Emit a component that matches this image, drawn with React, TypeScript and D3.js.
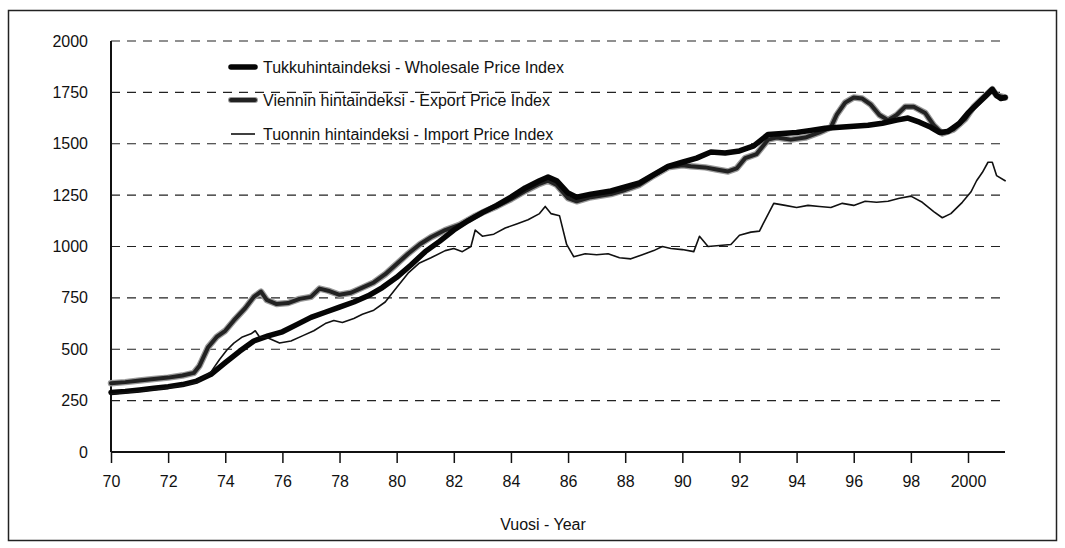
import React, { useRef, useEffect } from 'react';
import * as d3 from 'd3';

// [year, index] pairs, 1970 .. 2001
const wholesale: [number, number][] = [
  [1970.0, 290], [1970.5, 295], [1971.0, 302], [1971.5, 310], [1972.0, 318], [1972.5, 328],
  [1973.0, 345], [1973.5, 378], [1974.0, 435], [1974.5, 490], [1975.0, 540], [1975.5, 565],
  [1976.0, 585], [1976.5, 620], [1977.0, 655], [1977.5, 680], [1978.0, 705], [1978.5, 730],
  [1979.0, 760], [1979.5, 800], [1980.0, 850], [1980.5, 910], [1981.0, 975], [1981.5, 1025],
  [1982.0, 1080], [1982.5, 1125], [1983.0, 1165], [1983.5, 1200], [1984.0, 1240], [1984.5, 1285],
  [1985.0, 1320], [1985.3, 1338], [1985.6, 1320], [1986.0, 1260], [1986.3, 1240], [1986.8, 1255],
  [1987.5, 1270], [1988.0, 1290], [1988.5, 1310], [1989.0, 1350], [1989.5, 1390], [1990.0, 1410],
  [1990.5, 1430], [1991.0, 1460], [1991.5, 1455], [1992.0, 1465], [1992.5, 1490], [1993.0, 1545],
  [1993.5, 1550], [1994.0, 1555], [1994.5, 1565], [1995.0, 1575], [1995.5, 1580], [1996.0, 1585],
  [1996.5, 1590], [1997.0, 1600], [1997.5, 1615], [1997.9, 1625], [1998.3, 1605], [1998.7, 1580],
  [1999.0, 1555], [1999.3, 1560], [1999.7, 1600], [2000.0, 1650], [2000.3, 1690], [2000.6, 1730],
  [2000.85, 1765], [2001.0, 1735], [2001.15, 1720], [2001.3, 1725],
];

const exportIdx: [number, number][] = [
  [1970.0, 335], [1970.5, 340], [1971.0, 348], [1971.5, 355], [1972.0, 362], [1972.5, 372],
  [1972.9, 385], [1973.1, 420], [1973.4, 510], [1973.7, 560], [1974.0, 590], [1974.3, 640],
  [1974.7, 700], [1975.0, 755], [1975.25, 780], [1975.45, 740], [1975.8, 720], [1976.2, 725],
  [1976.6, 745], [1977.0, 755], [1977.3, 795], [1977.6, 785], [1978.0, 765], [1978.4, 775],
  [1978.8, 800], [1979.2, 825], [1979.6, 865], [1980.0, 915], [1980.4, 965], [1980.8, 1010],
  [1981.2, 1045], [1981.7, 1080], [1982.2, 1105], [1982.7, 1145], [1983.0, 1165], [1983.5, 1195],
  [1984.0, 1230], [1984.5, 1270], [1985.0, 1305], [1985.3, 1320], [1985.6, 1300], [1986.0, 1235],
  [1986.3, 1220], [1986.8, 1240], [1987.5, 1255], [1988.0, 1275], [1988.5, 1300], [1989.0, 1345],
  [1989.5, 1385], [1990.0, 1395], [1990.3, 1390], [1990.8, 1385], [1991.2, 1375], [1991.6, 1365],
  [1991.9, 1380], [1992.2, 1430], [1992.6, 1450], [1993.0, 1520], [1993.3, 1530], [1993.8, 1520],
  [1994.3, 1530], [1994.8, 1555], [1995.2, 1580], [1995.4, 1640], [1995.7, 1700], [1996.0, 1725],
  [1996.3, 1720], [1996.6, 1690], [1996.9, 1640], [1997.2, 1615], [1997.5, 1640], [1997.8, 1680],
  [1998.1, 1680], [1998.5, 1650], [1998.8, 1590], [1999.1, 1550], [1999.5, 1570], [1999.9, 1620],
  [2000.2, 1680], [2000.5, 1720], [2000.85, 1765], [2001.0, 1735], [2001.3, 1725],
];

const importIdx: [number, number][] = [
  [1970.0, 282], [1970.5, 288], [1971.0, 296], [1971.5, 303], [1972.0, 312], [1972.5, 322],
  [1973.0, 338], [1973.5, 390], [1973.8, 450], [1974.05, 495], [1974.3, 530], [1974.6, 560],
  [1974.9, 575], [1975.05, 590], [1975.2, 560], [1975.5, 555], [1975.9, 530], [1976.3, 540],
  [1976.7, 565], [1977.1, 590], [1977.5, 625], [1977.8, 640], [1978.1, 630], [1978.5, 650],
  [1978.8, 670], [1979.2, 690], [1979.6, 730], [1980.0, 800], [1980.4, 870], [1980.8, 920],
  [1981.2, 945], [1981.7, 980], [1982.0, 990], [1982.3, 975], [1982.6, 1000], [1982.75, 1080],
  [1983.0, 1050], [1983.4, 1060], [1983.8, 1090], [1984.2, 1110], [1984.6, 1130], [1985.0, 1160],
  [1985.2, 1195], [1985.4, 1160], [1985.7, 1150], [1985.95, 1010], [1986.2, 950], [1986.6, 965],
  [1987.0, 960], [1987.4, 965], [1987.8, 945], [1988.2, 940], [1988.6, 960], [1989.0, 980],
  [1989.3, 1000], [1989.6, 990], [1990.0, 985], [1990.4, 975], [1990.6, 1050], [1990.9, 1000],
  [1991.3, 1005], [1991.7, 1010], [1992.0, 1055], [1992.4, 1070], [1992.7, 1075], [1992.9, 1130],
  [1993.2, 1210], [1993.6, 1200], [1994.0, 1190], [1994.4, 1200], [1994.8, 1195], [1995.2, 1190],
  [1995.6, 1210], [1996.0, 1200], [1996.4, 1220], [1996.8, 1215], [1997.2, 1220], [1997.6, 1235],
  [1998.0, 1245], [1998.4, 1215], [1998.8, 1170], [1999.1, 1140], [1999.4, 1160], [1999.8, 1215],
  [2000.1, 1265], [2000.3, 1320], [2000.5, 1360], [2000.7, 1410], [2000.85, 1410], [2001.0, 1345],
  [2001.3, 1320],
];

const yTicks = [0, 250, 500, 750, 1000, 1250, 1500, 1750, 2000];
const xTicks = [1970, 1972, 1974, 1976, 1978, 1980, 1982, 1984, 1986, 1988, 1990, 1992, 1994, 1996, 1998, 2000];
const xTickLabel = (y: number) => (y === 2000 ? '2000' : String(y - 1900));

const legendLabels = [
  'Tukkuhintaindeksi - Wholesale Price Index',
  'Viennin hintaindeksi - Export Price Index',
  'Tuonnin hintaindeksi - Import Price Index',
];

const App = () => {
  const svgRef = useRef<SVGSVGElement>(null);

  useEffect(() => {
    const svg = d3.select(svgRef.current);
    svg.selectAll('*').remove();

    const font = "'Liberation Sans', Arial, sans-serif";
    const left = 111, right = 1005, top = 41, bottom = 452;

    const x = d3.scaleLinear().domain([1970, 2000]).range([left, 968]);
    const y = d3.scaleLinear().domain([0, 2000]).range([bottom, top]);

    // outer frame
    svg.append('rect')
      .attr('x', 8.5).attr('y', 10.5)
      .attr('width', 1048).attr('height', 530)
      .attr('fill', 'none').attr('stroke', '#222').attr('stroke-width', 1.5);

    // dashed gridlines
    svg.append('g')
      .selectAll('line')
      .data(yTicks.filter(d => d > 0))
      .enter().append('line')
      .attr('x1', left).attr('x2', right)
      .attr('y1', d => y(d)).attr('y2', d => y(d))
      .attr('stroke', '#222').attr('stroke-width', 1.2)
      .attr('stroke-dasharray', '9,7');

    // y tick labels
    svg.append('g')
      .selectAll('text')
      .data(yTicks)
      .enter().append('text')
      .attr('x', 88).attr('y', d => y(d))
      .attr('dy', '0.35em')
      .attr('text-anchor', 'end')
      .attr('font-family', font).attr('font-size', 16).attr('fill', '#111')
      .text(d => d);

    // x axis
    const xAxis = svg.append('g')
      .attr('transform', `translate(0,${bottom})`)
      .call(d3.axisBottom(x).tickValues(xTicks).tickSize(11).tickPadding(13).tickFormat(d => xTickLabel(+d)));
    xAxis.select('.domain').attr('stroke', '#111').attr('stroke-width', 2).attr('d', `M${left},0H${right}`);
    xAxis.selectAll('.tick line').attr('stroke', '#111').attr('stroke-width', 1.5);
    xAxis.selectAll('.tick text')
      .attr('font-family', font).attr('font-size', 16).attr('fill', '#111');

    // y axis line
    svg.append('line')
      .attr('x1', left).attr('x2', left)
      .attr('y1', top).attr('y2', bottom)
      .attr('stroke', '#111').attr('stroke-width', 2);

    svg.append('text')
      .attr('x', 543).attr('y', 530)
      .attr('text-anchor', 'middle')
      .attr('font-family', font).attr('font-size', 16).attr('fill', '#111')
      .text('Vuosi - Year');

    const line = d3.line<[number, number]>()
      .x(d => x(d[0]))
      .y(d => y(d[1]))
      .curve(d3.curveLinear);

    const g = svg.append('g').attr('fill', 'none').attr('stroke-linejoin', 'round').attr('stroke-linecap', 'round');

    // export: grey halo with dark core
    g.append('path').attr('d', line(exportIdx)).attr('stroke', '#9a9a9a').attr('stroke-width', 6.5);
    g.append('path').attr('d', line(exportIdx)).attr('stroke', '#222').attr('stroke-width', 4);
    g.append('path').attr('d', line(wholesale)).attr('stroke', '#050505').attr('stroke-width', 5.5);
    g.append('path').attr('d', line(importIdx)).attr('stroke', '#111').attr('stroke-width', 1.6);

    // legend
    const legendY = [67, 100, 134];
    const lg = svg.append('g');
    lg.append('line').attr('x1', 231).attr('x2', 255).attr('y1', legendY[0]).attr('y2', legendY[0])
      .attr('stroke', '#050505').attr('stroke-width', 5.5).attr('stroke-linecap', 'round');
    lg.append('line').attr('x1', 231).attr('x2', 255).attr('y1', legendY[1]).attr('y2', legendY[1])
      .attr('stroke', '#9a9a9a').attr('stroke-width', 6).attr('stroke-linecap', 'round');
    lg.append('line').attr('x1', 231).attr('x2', 255).attr('y1', legendY[1]).attr('y2', legendY[1])
      .attr('stroke', '#222').attr('stroke-width', 4).attr('stroke-linecap', 'round');
    lg.append('line').attr('x1', 231).attr('x2', 255).attr('y1', legendY[2]).attr('y2', legendY[2])
      .attr('stroke', '#111').attr('stroke-width', 1.6);
    lg.selectAll('text')
      .data(legendLabels)
      .enter().append('text')
      .attr('x', 263).attr('y', (d, i) => legendY[i])
      .attr('dy', '0.35em')
      .attr('font-family', font).attr('font-size', 16).attr('fill', '#111')
      .text(d => d);
  }, []);

  return (
    <svg
      ref={svgRef}
      width={1065}
      height={548}
      style={{ position: 'absolute', left: 0, top: 0, background: '#fff' }}
    />
  );
};

export default App;
